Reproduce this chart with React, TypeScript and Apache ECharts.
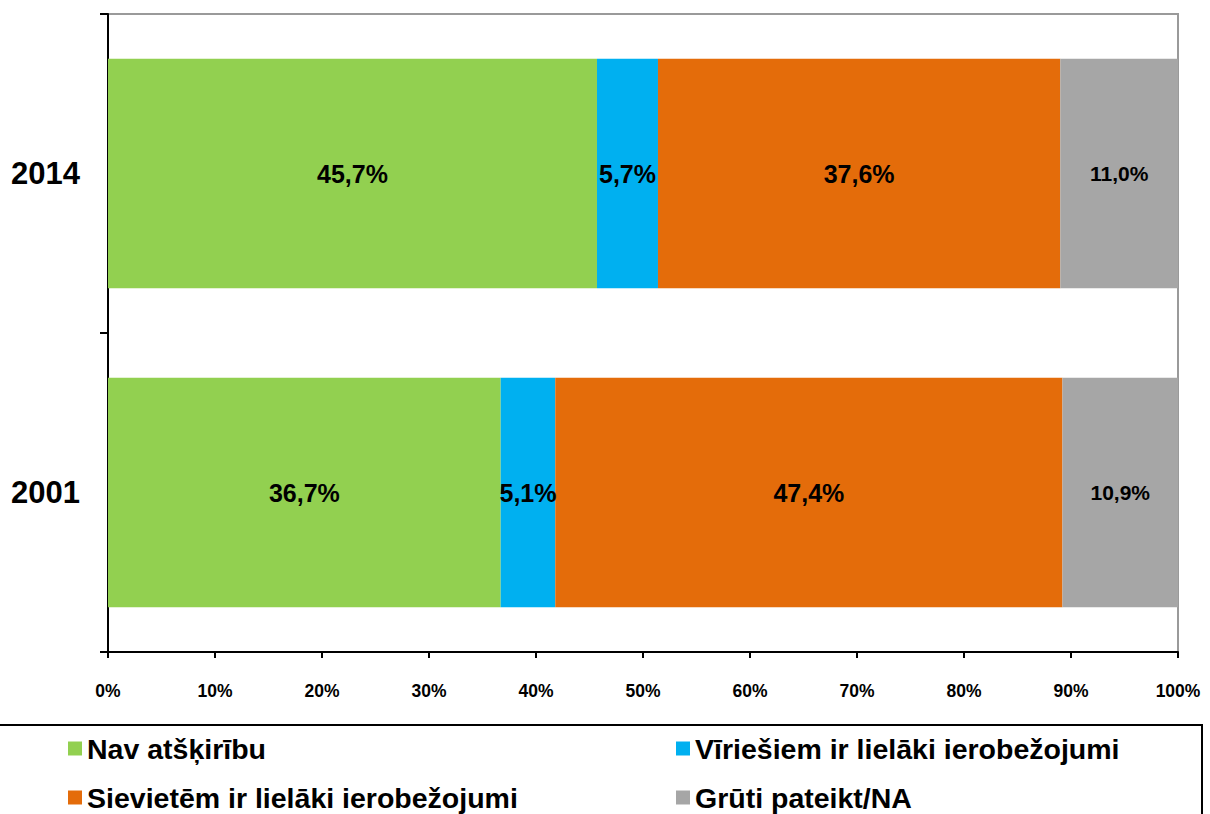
import React, { useEffect, useRef } from "react";
import * as echarts from "echarts";

const categories = ["2001", "2014"];
const seriesNames = [
  "Nav atšķirību",
  "Vīriešiem ir lielāki ierobežojumi",
  "Sievietēm ir lielāki ierobežojumi",
  "Grūti pateikt/NA",
];
const navAtskiribu = [36.7, 45.7];
const viriesiem = [5.1, 5.7];
const sievietem = [47.4, 37.6];
const gruti = [10.9, 11.0];
const colors = ["#92D050", "#00B0F0", "#E46C0A", "#A6A6A6"];
const xTicks = { min: 0, max: 100, interval: 10 };

const FONT = "'Liberation Sans', Arial, sans-serif";

export default function App() {
  const ref = useRef<HTMLDivElement>(null);
  useEffect(() => {
    if (!ref.current) return;
    const chart = echarts.init(ref.current, null, { renderer: "svg" });
    const values = [navAtskiribu, viriesiem, sievietem, gruti];
    const fmt = (v: number) => v.toFixed(1).replace(".", ",") + "%";
    const series = values.map((data, i) => ({
      name: seriesNames[i],
      type: "bar",
      stack: "total",
      barCategoryGap: "28%",
      data,
      itemStyle: { color: colors[i] },
      label: {
        show: true,
        position: "inside",
        color: "#000",
        fontWeight: "bold",
        fontFamily: FONT,
        fontSize: i === 3 ? 21 : 25,
        formatter: (p: any) => fmt(p.value),
      },
    }));
    const legendCommon = {
      orient: "vertical",
      icon: "rect",
      itemWidth: 14,
      itemHeight: 14,
      itemGap: 20,
      top: 734,
      height: 120,
      padding: 0,
      selectedMode: false,
      textStyle: {
        fontFamily: FONT,
        fontWeight: "bold",
        fontSize: 28.5,
        color: "#000",
        lineHeight: 28,
      },
    };
    chart.setOption({
      animation: false,
      grid: {
        left: 108,
        right: 32,
        top: 14,
        bottom: 162,
        show: true,
        borderColor: "#9a9a9a",
        borderWidth: 2,
        backgroundColor: "transparent",
      },
      xAxis: {
        type: "value",
        min: xTicks.min,
        max: xTicks.max,
        interval: xTicks.interval,
        axisLine: { show: true, lineStyle: { color: "#000", width: 2 } },
        axisTick: { show: true, length: 6, lineStyle: { color: "#000", width: 2 } },
        splitLine: { show: false },
        axisLabel: {
          formatter: "{value}%",
          color: "#000",
          fontWeight: "bold",
          fontFamily: FONT,
          fontSize: 17.5,
          margin: 30,
        },
      },
      yAxis: {
        type: "category",
        data: categories,
        axisLine: { show: true, lineStyle: { color: "#000", width: 2 } },
        axisTick: { show: true, length: 8, lineStyle: { color: "#000", width: 2 } },
        axisLabel: {
          color: "#000",
          fontWeight: "bold",
          fontFamily: FONT,
          fontSize: 31,
          margin: 28,
        },
      },
      legend: [
        { ...legendCommon, left: 68, data: [seriesNames[0], seriesNames[2]] },
        { ...legendCommon, left: 676, data: [seriesNames[1], seriesNames[3]] },
      ],
      graphic: [
        {
          type: "rect",
          shape: { x: -10, y: 725, width: 1212, height: 120 },
          style: { fill: "none", stroke: "#000", lineWidth: 2 },
        },
      ],
      series,
    });
    return () => chart.dispose();
  }, []);
  return <div ref={ref} style={{ width: 1210, height: 814, position: "absolute", left: 0, top: 0 }} />;
}
